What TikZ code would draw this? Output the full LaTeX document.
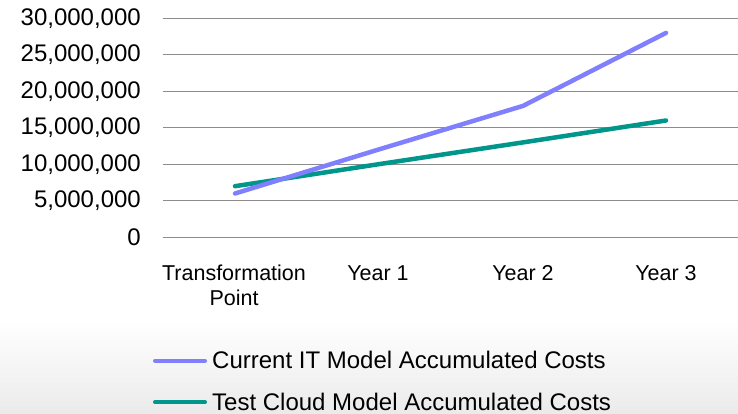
\documentclass[tikz,border=0pt]{standalone}
\usepackage{fontspec}
\setmainfont{Liberation Sans}
\usepackage{xcolor}
\usetikzlibrary{positioning}
\definecolor{curblue}{RGB}{128,128,255}
\definecolor{cloudteal}{RGB}{0,150,140}
\definecolor{gridgray}{RGB}{140,140,140}
\begin{document}
\begin{tikzpicture}[x=1pt,y=-1pt,
                  grid/.style={draw=gridgray,line width=1.2pt},
                  ylab/.style={anchor=east,inner sep=0pt,font=\fontsize{24}{28}\selectfont},
                  xlab/.style={anchor=base,inner sep=0pt,font=\fontsize{21.5}{25}\selectfont},
                  leg/.style={anchor=base west,inner sep=0pt,font=\fontsize{24}{28}\selectfont},
                  cur/.style={draw=curblue,line width=4.5pt,line cap=round,line join=round},
                  cloud/.style={draw=cloudteal,line width=4.5pt,line cap=round,line join=round}
                  ]
                  \useasboundingbox (0,0) rectangle (738,414);
                  % backdrop given in plain pt, so the shading is not flipped
                  \shade[top color=white,bottom color=black!8,draw=none] (0pt,-320pt) rectangle (738pt,-414pt);

                  % value axis
                  \node[ylab] (v30) at (141,18.3) {30,000,000};
                  \node[ylab] (v25) at (141,54.8) {25,000,000};
                  \node[ylab] (v20) at (141,91.3) {20,000,000};
                  \node[ylab] (v15) at (141,127.8) {15,000,000};
                  \node[ylab] (v10) at (141,164.3) {10,000,000};
                  \node[ylab] (v5) at (141,200.8) {5,000,000};
                  \node[ylab] (v0) at (141,237.3) {0};

                  \draw[grid] (163,18.3) -- (738,18.3);
                  \draw[grid] (163,54.8) -- (738,54.8);
                  \draw[grid] (163,91.3) -- (738,91.3);
                  \draw[grid] (163,127.8) -- (738,127.8);
                  \draw[grid] (163,164.3) -- (738,164.3);
                  \draw[grid] (163,200.8) -- (738,200.8);
                  \draw[grid] (163,237.3) -- (738,237.3);

                  % categories
                  \node[xlab] (tp) at (234,280.7) {Transformation};
                  \node[xlab] (tp2) at (234,305.2) {Point};
                  \node[xlab] (y1) at (378,280.7) {Year 1};
                  \node[xlab] (y2) at (523,280.7) {Year 2};
                  \node[xlab] (y3) at (666,280.7) {Year 3};

                  % series
                  \coordinate (c0) at (235,193.5);
                  \coordinate (c1) at (378,149.7);
                  \coordinate (c2) at (523,105.9);
                  \coordinate (c3) at (666,32.9);
                  \coordinate (t0) at (235,186.2);
                  \coordinate (t1) at (378,164.3);
                  \coordinate (t2) at (523,142.4);
                  \coordinate (t3) at (666,120.5);

                  \draw[cloud] (t0) -- (t1) -- (t2) -- (t3);
                  \draw[cur] (c0) -- (c1) -- (c2) -- (c3);

                  % legend
                  \coordinate (lc) at (155,360.7);
                  \coordinate (lt) at (155,402.2);
                  \node[leg] (curtext) at (212,368.5) {Current IT Model Accumulated Costs};
                  \node[leg] (cloudtext) at (212,410) {Test Cloud Model Accumulated Costs};
                  \draw[cur,line width=4pt] (lc) -- ++(50,0);
                  \draw[cloud,line width=4pt] (lt) -- ++(50,0);
\end{tikzpicture}
\end{document}
